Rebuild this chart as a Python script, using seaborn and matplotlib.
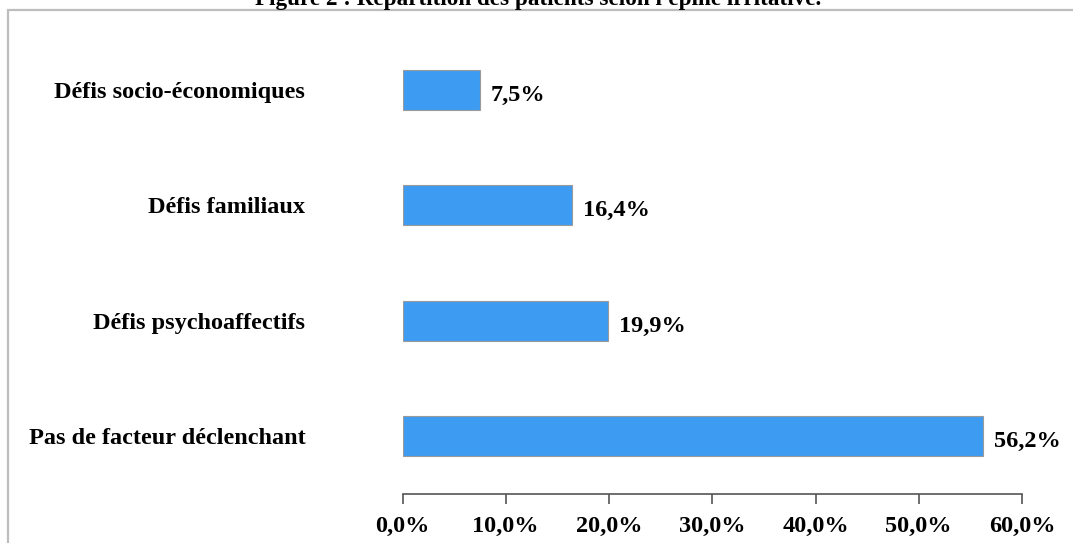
import matplotlib
matplotlib.use("Agg")
import matplotlib.pyplot as plt
import seaborn as sns
import pandas as pd
from matplotlib.lines import Line2D

categories = ["Défis socio-économiques", "Défis familiaux", "Défis psychoaffectifs", "Pas de facteur déclenchant"]
values = [7.5, 16.4, 19.9, 56.2]
value_labels = ["7,5%", "16,4%", "19,9%", "56,2%"]
xticks = [0, 10, 20, 30, 40, 50, 60]
xtick_labels = ["0,0%", "10,0%", "20,0%", "30,0%", "40,0%", "50,0%", "60,0%"]
title = "Figure 2 : Répartition des patients selon l'épine irritative."

sns.set_theme(style="white")
plt.rcParams['font.family'] = ['Liberation Serif', 'DejaVu Serif']
plt.rcParams['font.weight'] = 'bold'

FS = 17.5
W, H = 1073, 543
fig = plt.figure(figsize=(W / 100, H / 100), dpi=100)
ax = fig.add_axes([402.5 / W, 49 / H, (1022 - 402.5) / W, (494 - 32) / H])

df = pd.DataFrame({"cat": categories, "val": values})
sns.barplot(data=df, x="val", y="cat", orient="h", color="#3d9cf2", saturation=1,
            width=0.35, edgecolor="#9a9a9a", linewidth=0.8, ax=ax)

ax.set_xlim(0, 60)
ax.set_ylim(3.5, -0.5)
ax.set_xticks(xticks)
ax.set_xticklabels(xtick_labels, fontsize=FS, fontweight='bold', color='black')
ax.tick_params(axis='x', direction='out', length=7, width=1.2, color='#555555', pad=9, bottom=True)
ax.tick_params(axis='y', length=0, pad=70)
ax.set_yticklabels(categories, fontsize=FS, fontweight='bold', color='black')
ax.set_xlabel("")
ax.set_ylabel("")
for s in ["top", "right", "left"]:
    ax.spines[s].set_visible(False)
ax.spines["bottom"].set_color("#555555")
ax.spines["bottom"].set_linewidth(1.2)

for i, (v, lab) in enumerate(zip(values, value_labels)):
    ax.annotate(lab, xy=(v, i), xytext=(8, -4), textcoords="offset points",
                va="center", ha="left", fontsize=FS, fontweight='bold', color='black')

# frame
fig.add_artist(Line2D([8 / W, 8 / W], [0, 1 - 9.5 / H], transform=fig.transFigure,
                      color="#bdbdbd", linewidth=1.6))
fig.add_artist(Line2D([8 / W, 1], [1 - 9.5 / H, 1 - 9.5 / H], transform=fig.transFigure,
                      color="#bdbdbd", linewidth=1.6))

fig.text(538 / W, 1 - 5 / H, title, ha="center", va="baseline", fontsize=16.7,
         fontweight='bold', color='black')

fig.savefig("out.png", dpi=100)
